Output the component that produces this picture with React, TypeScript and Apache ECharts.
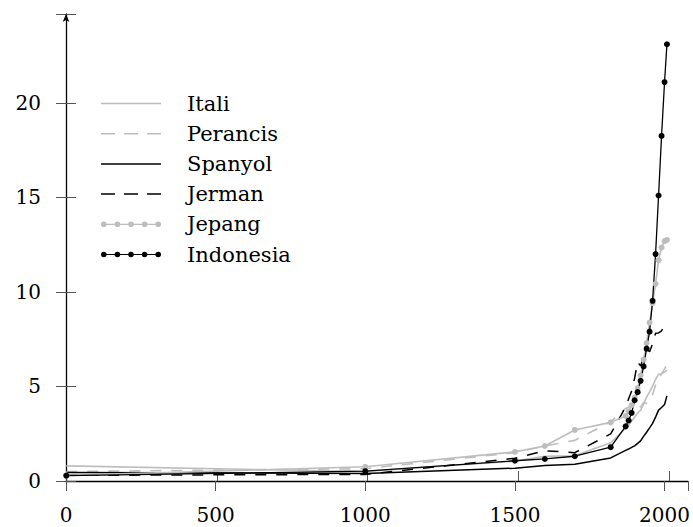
import React, { useEffect, useRef } from "react";
import * as echarts from "echarts";

const years = [1, 1000, 1500, 1600, 1700, 1820, 1870, 1880, 1890, 1900, 1910, 1920, 1930, 1940, 1950, 1960, 1970, 1980, 1990, 2000, 2008];
const itali = [0.8, 0.5, 1.05, 1.31, 1.33, 2.02, 2.79, 2.95, 3.17, 3.37, 3.59, 3.74, 4.08, 4.43, 4.71, 5.02, 5.37, 5.65, 5.67, 5.77, 5.85];
const perancis = [0.5, 0.65, 1.5, 1.85, 2.15, 3.13, 3.84, 3.9, 4.0, 4.06, 4.12, 3.9, 4.16, 4.1, 4.18, 4.57, 5.08, 5.39, 5.67, 5.93, 6.2];
const spanyol = [0.45, 0.4, 0.68, 0.82, 0.88, 1.22, 1.62, 1.69, 1.78, 1.86, 1.99, 2.12, 2.36, 2.58, 2.81, 3.05, 3.38, 3.75, 3.89, 4.05, 4.5];
const jerman = [0.3, 0.35, 1.2, 1.6, 1.5, 2.49, 3.92, 4.35, 4.76, 5.44, 6.29, 6.09, 6.51, 6.98, 6.84, 7.25, 7.82, 7.83, 7.94, 8.22, 8.24];
const jepang = [0.3, 0.75, 1.54, 1.85, 2.7, 3.1, 3.44, 3.68, 4.01, 4.41, 4.92, 5.58, 6.42, 7.3, 8.38, 9.41, 10.43, 11.68, 12.35, 12.69, 12.75];
const indonesia = [0.28, 0.52, 1.07, 1.165, 1.31, 1.79, 2.89, 3.2, 3.6, 4.27, 4.7, 5.3, 6.06, 7.0, 7.9, 9.53, 12.0, 15.1, 18.25, 21.1, 23.1];

const names = ["Itali", "Perancis", "Spanyol", "Jerman", "Jepang", "Indonesia"];
const xTicks = [0, 500, 1000, 1500, 2000];
const yTicks = [0, 5, 10, 15, 20];

const GRAY = "#bdbdbd";
const BLACK = "#000000";
const FONT = "DejaVu Serif";

const solidIcon = "path://M0,0 L60,0 L60,1.5 L0,1.5 Z";
const dashIcon = "path://M0,0 L14,0 L14,1.5 L0,1.5 Z M23,0 L37,0 L37,1.5 L23,1.5 Z M46,0 L60,0 L60,1.5 L46,1.5 Z";
const circ = (cx: number) => `M${cx - 2.8},2.8 A2.8,2.8 0 1,1 ${cx + 2.8},2.8 A2.8,2.8 0 1,1 ${cx - 2.8},2.8 Z`;
const dotIcon =
  "path://M0,2.2 L60,2.2 L60,3.4 L0,3.4 Z " + [2.8, 16.4, 30, 43.6, 57.2].map(circ).join(" ");

const pairs = (vals: number[]) => years.map((y, i) => [y, vals[i]]);

export default function App() {
  const ref = useRef<HTMLDivElement>(null);
  useEffect(() => {
    if (!ref.current) return;
    const chart = echarts.init(ref.current, undefined, { renderer: "svg" });
    const xMax = 2078;
    const yMax = 24.7;
    const gridBox = { left: 66, right: 0, top: 14, bottom: 46, containLabel: false };
    const tickStyle = { color: "#555", width: 1 };
    const mk = (name: string, vals: number[], color: string, dashed: boolean, sym: boolean, w: number) => ({
      name,
      type: "line",
      data: pairs(vals),
      symbol: sym ? "circle" : "none",
      symbolSize: 6,
      showSymbol: sym,
      itemStyle: { color },
      lineStyle: { color, width: w, type: dashed ? [11, 10] : "solid" },
      xAxisIndex: 0,
      yAxisIndex: 0,
      z: 3,
    });
    chart.setOption({
      animation: false,
      grid: [gridBox, gridBox],
      xAxis: [
        {
          gridIndex: 0,
          type: "value",
          min: 0,
          max: xMax,
          interval: 500,
          splitLine: { show: false },
          axisLine: { show: true, lineStyle: { color: BLACK, width: 1.3 } },
          axisTick: { show: true, inside: false, length: 10, lineStyle: tickStyle },
          axisLabel: {
            margin: 24,
            color: BLACK,
            fontFamily: FONT,
            fontSize: 20,
            formatter: (v: number) => (xTicks.includes(v) ? String(v) : ""),
          },
        },
        {
          gridIndex: 1,
          type: "value",
          min: 0,
          max: xMax,
          interval: 500,
          position: "bottom",
          splitLine: { show: false },
          axisLine: { show: false },
          axisTick: { show: true, inside: true, length: 10, lineStyle: tickStyle },
          axisLabel: { show: false },
        },
      ],
      yAxis: [
        {
          gridIndex: 0,
          type: "value",
          min: 0,
          max: yMax,
          interval: 5,
          splitLine: { show: false },
          axisLine: {
            show: true,
            symbol: ["none", "arrow"],
            symbolSize: [5, 8],
            lineStyle: { color: BLACK, width: 1.3 },
          },
          axisTick: { show: true, inside: false, length: 10, lineStyle: tickStyle },
          axisLabel: {
            margin: 25,
            color: BLACK,
            fontFamily: FONT,
            fontSize: 20,
            formatter: (v: number) => (yTicks.includes(v) ? String(v) : ""),
          },
        },
        {
          gridIndex: 1,
          type: "value",
          min: 0,
          max: yMax,
          interval: 5,
          position: "left",
          splitLine: { show: false },
          axisLine: { show: false },
          axisTick: { show: true, inside: true, length: 10, lineStyle: tickStyle },
          axisLabel: { show: false },
        },
      ],
      legend: {
        orient: "vertical",
        left: 96,
        top: 88,
        itemWidth: 60,
        itemHeight: 6,
        itemGap: 9.2,
        symbolKeepAspect: true,
        textStyle: { fontFamily: FONT, fontSize: 21, color: BLACK, lineHeight: 20, padding: [0, 0, 0, 21] },
        data: [
          { name: names[0], icon: solidIcon, itemStyle: { color: GRAY } },
          { name: names[1], icon: dashIcon, itemStyle: { color: GRAY } },
          { name: names[2], icon: solidIcon, itemStyle: { color: BLACK } },
          { name: names[3], icon: dashIcon, itemStyle: { color: BLACK } },
          { name: names[4], icon: dotIcon, itemStyle: { color: GRAY } },
          { name: names[5], icon: dotIcon, itemStyle: { color: BLACK } },
        ],
      },
      series: [
        mk(names[0], itali, GRAY, false, false, 1.6),
        mk(names[1], perancis, GRAY, true, false, 1.6),
        mk(names[2], spanyol, BLACK, false, false, 1.5),
        mk(names[3], jerman, BLACK, true, false, 1.5),
        mk(names[4], jepang, GRAY, false, true, 1.6),
        mk(names[5], indonesia, BLACK, false, true, 1.3),
      ],
    });
    return () => chart.dispose();
  }, []);
  return <div ref={ref} style={{ width: 693, height: 527, position: "absolute", left: 0, top: 0 }} />;
}
